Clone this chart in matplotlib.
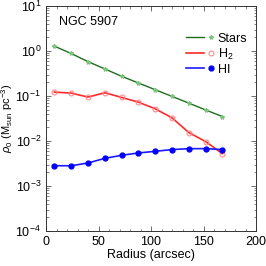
import matplotlib
matplotlib.use("Agg")
import matplotlib.pyplot as plt
from matplotlib.legend_handler import HandlerLine2DCompound
from matplotlib.ticker import MultipleLocator, LogLocator
import numpy as np

plt.rcParams['font.family'] = ['Liberation Sans', 'DejaVu Sans']
plt.rcParams['mathtext.fontset'] = 'custom'
plt.rcParams['mathtext.rm'] = 'Liberation Sans'
plt.rcParams['mathtext.it'] = 'Liberation Sans:italic'

radius = [8, 24, 40, 56, 72, 88, 104, 120, 136, 152, 168]
stars = [1.28, 0.88, 0.58, 0.40, 0.274, 0.195, 0.138, 0.098, 0.0695, 0.049, 0.035]
h2 = [0.122, 0.116, 0.0946, 0.118, 0.093, 0.073, 0.052, 0.0327, 0.0154, 0.0097, 0.00524]
hi = [0.00282, 0.00282, 0.00324, 0.00412, 0.00481, 0.00542, 0.0059, 0.00645, 0.00676, 0.00676, 0.00645]

fig = plt.figure(figsize=(2.66, 2.66), dpi=100)
ax = fig.add_axes([46/266, 35/266, 210/266, 225/266])

l1, = ax.plot(radius, stars, color='#1f6e1f', lw=1.0, marker='*', ms=3,
              mfc='#7cc47c', mec='#7cc47c', label='Stars')
l2, = ax.plot(radius, h2, color='#ff2a2a', lw=1.2, marker='o', ms=3.5,
              mfc='none', mec='#ff8a8a', mew=0.8, label='H$_2$')
l3, = ax.plot(radius, hi, color='#1a1aff', lw=1.2, marker='o', ms=3.5,
              mfc='#0000ff', mec='#0000ff', label='HI')

ax.set_yscale('log')
ax.set_xlim(0, 200)
ax.set_ylim(1e-4, 10)
ax.xaxis.set_major_locator(MultipleLocator(50))
ax.xaxis.set_minor_locator(MultipleLocator(10))
ax.yaxis.set_major_locator(LogLocator(base=10, numticks=10))
ax.yaxis.set_minor_locator(LogLocator(base=10, subs=np.arange(2, 10), numticks=20))
ax.tick_params(which='both', direction='in', top=True, right=True, labelsize=9, color='#555555')
ax.tick_params(which='major', length=3.5, width=0.6)
ax.tick_params(which='minor', length=1.8, width=0.5)
for s in ax.spines.values():
    s.set_linewidth(0.7)
    s.set_color('#333333')

ax.set_xlabel('Radius (arcsec)', fontsize=9, labelpad=1)
ax.set_ylabel(r'$\rho_0$ (M$_{\rm sun}$ pc$^{-3}$)', fontsize=8, labelpad=0)

ax.text(0.06, 0.93, 'NGC 5907', transform=ax.transAxes, fontsize=9, va='center')


class RightMarkerHandler(HandlerLine2DCompound):
    def get_xdata(self, legend, xdescent, ydescent, width, height, fontsize):
        xdata = np.array([-xdescent, -xdescent + width * 0.72])
        xmark = np.array([-xdescent + width * 0.97])
        return xdata, xmark


h = RightMarkerHandler(numpoints=1)
leg = ax.legend(handles=[l1, l2, l3], loc='upper right', frameon=False, fontsize=9,
                handlelength=2.0, handletextpad=0.5, labelspacing=0.15,
                borderaxespad=0.3, bbox_to_anchor=(1.0, 0.92),
                handler_map={l1: h, l2: h, l3: h})

fig.savefig('out.png', dpi=100)
